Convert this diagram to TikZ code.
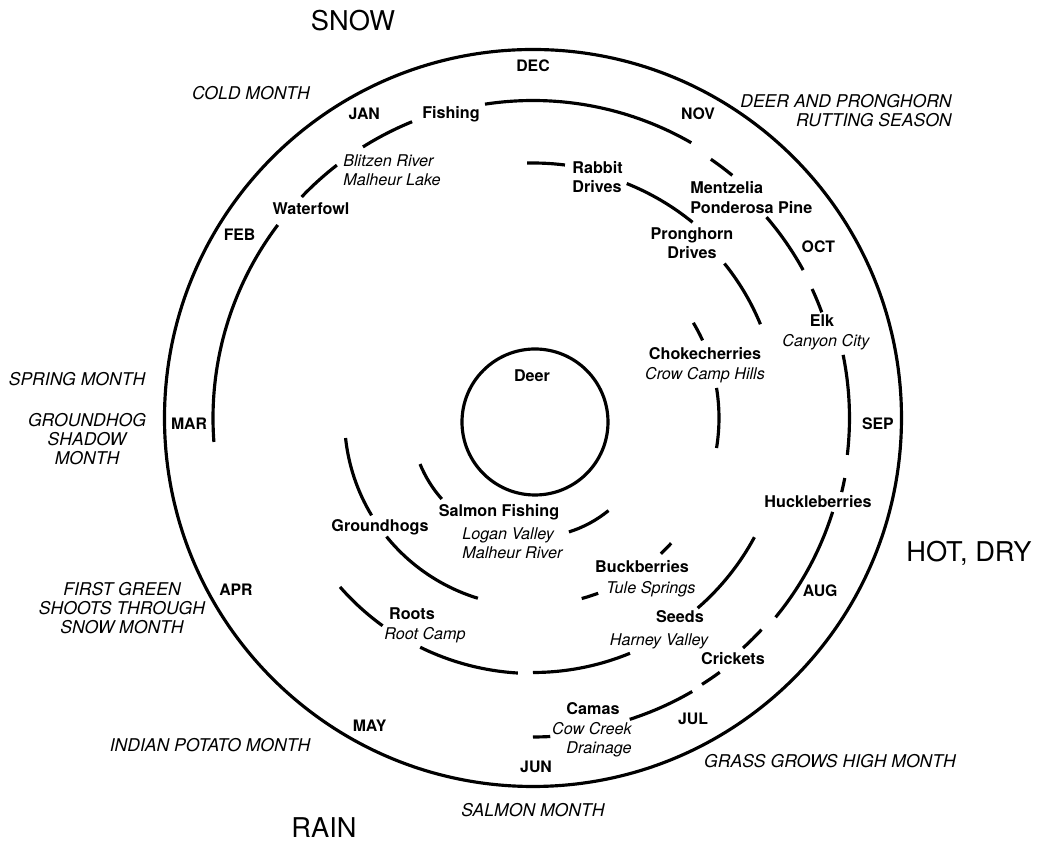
\documentclass[tikz,border=0pt]{standalone}
\usepackage{fontspec}
\setmainfont{TeX Gyre Heros}
\usepackage{tikz}
\def\ringarc[#1](#2:#3:#4){\draw[#1] (#2:#4) arc (#2:#3:#4);}
\tikzset{
	ring/.style={line width=1.8pt},
	month/.style={font=\fontsize{9}{11}\selectfont\bfseries, inner sep=0pt},
	act/.style={font=\fontsize{9.2}{11}\selectfont\bfseries, inner sep=0pt},
	place/.style={font=\fontsize{9.2}{11}\selectfont\itshape, inner sep=0pt},
	season/.style={font=\fontsize{10}{10.6}\selectfont\itshape, inner sep=0pt},
	weather/.style={font=\fontsize{15.5}{18}\selectfont, inner sep=0pt}
}

\begin{document}
\begin{tikzpicture}
		%%%%% START %%%%%
		\useasboundingbox (-10.66, -8.48) rectangle (10.14, 8.36);
		
		\draw[ring] (0, 0) circle (7.37);
		\node[ring, draw, circle, minimum size=2.92cm, inner sep=0pt] (deer) at (0.04, -0.08) {};
		
		% months
		\foreach \m/\a/\r in {DEC/90/7.04, JAN/119/6.96, FEB/148/6.92, MAR/181/6.88, APR/210/6.86, MAY/242/6.96,
				JUN/270.5/6.98, JUL/298/6.82, AUG/329/6.70, SEP/359/6.90, OCT/31/6.66, NOV/61.5/6.92}
			\node[month] (m\m) at (\a:\r) {\m};
		
		% outer ring
		\ringarc[ring](142.9:184.3:6.40);
		\ringarc[ring](127.8:136.3:6.40);
		\ringarc[ring](112.2:122.1:6.40);
		\ringarc[ring](60.1:98.7:6.35);
		\ringarc[ring](50.6:55.5:6.28);
		\ringarc[ring](28.7:40.7:6.16);
		\ringarc[ring](20.1:24.8:6.15);
		\ringarc[ring](-6.7:11.5:6.33);
		\ringarc[ring](-13.5:-10.9:6.35);
		\ringarc[ring](-39.4:-17.4:6.28);
		\ringarc[ring](-47.6:-42.8:6.23);
		\ringarc[ring](-57.6:-53.7:6.31);
		\ringarc[ring](-72.2:-59.8:6.33);
		\ringarc[ring](-90:-86.9:6.38);
		
		% middle ring
		\ringarc[ring](82.8:91.3:5.10);
		\ringarc[ring](50.8:68.2:5.05);
		\ringarc[ring](22.4:38.9:4.92);
		\ringarc[ring](-49.1:-28.3:5.03);
		\ringarc[ring](-90:-67.6:5.09);
		\ringarc[ring](-116.2:-93.4:5.11);
		\ringarc[ring](-138.8:-125.9:5.13);
		
		% inner rings
		\ringarc[ring](24.6:30.7:3.73);
		\ringarc[ring](-9.3:9.3:3.72);
		\ringarc[ring](-46.7:-42.2:3.73);
		\ringarc[ring](-74.9:-69.6:3.74);
		\ringarc[ring](219:253:3.77);
		\ringarc[ring](186.1:211.1:3.77);
		\ringarc[ring](202.2:221.6:2.44);
		\ringarc[ring](-72.5:-50.8:2.39);
		
		% resources
		\node[act] (deerlbl) at (-0.02, 0.84) {Deer};
		\node[act] (fishing) at (-1.64, 6.08) {Fishing};
		\node[place, anchor=west, align=left] (blitzen) at (-3.80, 4.95) {Blitzen River\\Malheur Lake};
		\node[act] (waterfowl) at (-4.44, 4.18) {Waterfowl};
		\node[act, anchor=west, align=left] (rabbit) at (0.78, 4.82) {Rabbit\\Drives};
		\node[act, anchor=west, align=left] (mentzelia) at (3.14, 4.41) {Mentzelia\\Ponderosa Pine};
		\node[act, align=center] (pronghorn) at (3.18, 3.50) {Pronghorn\\Drives};
		\node[act] (elk) at (5.78, 1.94) {Elk};
		\node[place] (canyon) at (5.86, 1.52) {Canyon City};
		\node[act] (choke) at (3.44, 1.28) {Chokecherries};
		\node[place] (crowcamp) at (3.44, 0.86) {Crow Camp Hills};
		\node[act] (huckle) at (5.70, -1.68) {Huckleberries};
		\node[act] (salmon) at (-0.68, -1.88) {Salmon Fishing};
		\node[place, anchor=west, align=left] (logan) at (-1.42, -2.51) {Logan Valley\\Malheur River};
		\node[act] (groundhogs) at (-3.06, -2.18) {Groundhogs};
		\node[act] (buck) at (2.18, -2.98) {Buckberries};
		\node[place] (tule) at (2.36, -3.42) {Tule Springs};
		\node[act] (roots) at (-2.42, -3.92) {Roots};
		\node[place] (rootcamp) at (-2.16, -4.34) {Root Camp};
		\node[act] (seeds) at (2.94, -3.98) {Seeds};
		\node[place] (harney) at (2.52, -4.46) {Harney Valley};
		\node[act] (crickets) at (4.00, -4.82) {Crickets};
		\node[act] (camas) at (1.20, -5.82) {Camas};
		\node[place, anchor=east, align=right] (cowcreek) at (1.98, -6.44) {Cow Creek\\Drainage};
		
		% month names
		\node[season] (cold) at (-5.64, 6.50) {COLD MONTH};
		\node[season, anchor=east, align=right] (rutting) at (8.38, 6.15) {DEER AND PRONGHORN\\RUTTING SEASON};
		\node[season] (spring) at (-9.12, 0.78) {SPRING MONTH};
		\node[season, align=center] (shadow) at (-8.92, -0.42) {GROUNDHOG\\SHADOW\\MONTH};
		\node[season, align=center] (green) at (-8.22, -3.80) {FIRST GREEN\\SHOOTS THROUGH\\SNOW MONTH};
		\node[season] (potato) at (-6.46, -6.54) {INDIAN POTATO MONTH};
		\node[season] (salmonm) at (0, -7.84) {SALMON MONTH};
		\node[season] (grass) at (5.94, -6.86) {GRASS GROWS HIGH MONTH};
		
		\node[weather] (snow) at (-3.60, 7.94) {SNOW};
		\node[weather] (hot) at (8.72, -2.70) {HOT, DRY};
		\node[weather] (rain) at (-4.18, -8.20) {RAIN};
		
		%%%%% END %%%%%
	\end{tikzpicture}
\end{document}
